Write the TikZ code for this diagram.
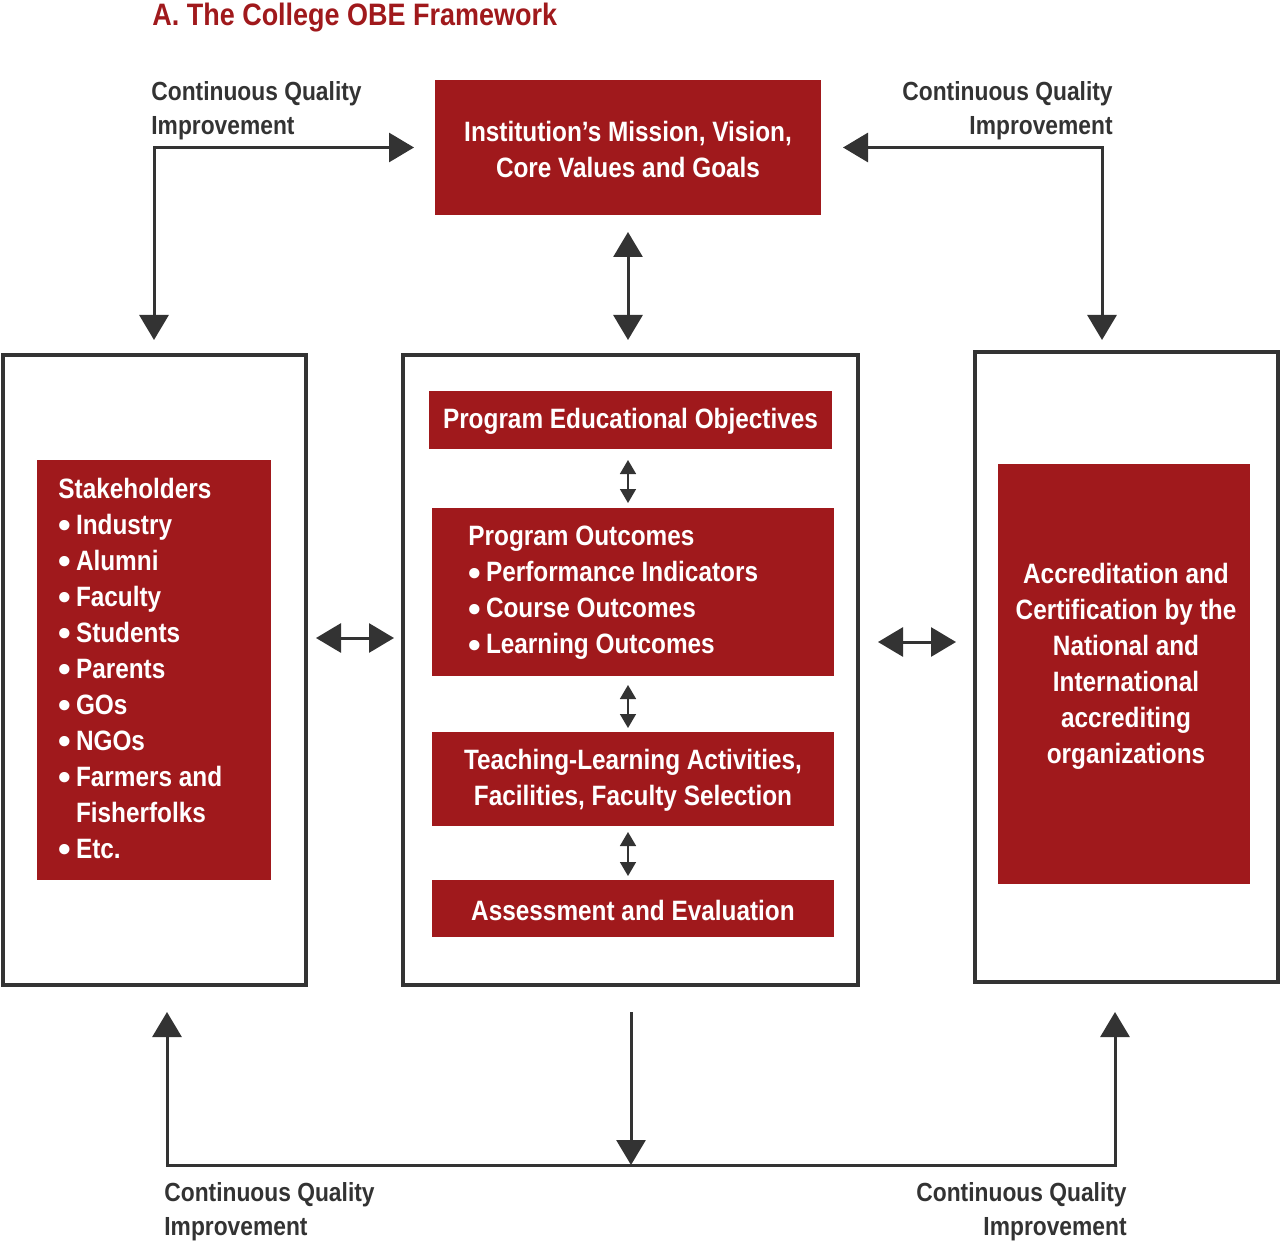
\documentclass[tikz,border=0pt]{standalone}
\usepackage{fontspec}
\setmainfont{Liberation Sans}[FakeStretch=0.87]
\newfontfamily\bulletfont{Liberation Sans}
\usetikzlibrary{positioning,arrows.meta,calc}
\definecolor{obered}{HTML}{A0191C}
\definecolor{obegray}{HTML}{333333}
\newcommand{\obedot}{{\bulletfont\fontsize{18}{18}\selectfont\raisebox{-1.8pt}{\textbullet}}\hspace{2.5pt}}

\begin{document}
\begin{tikzpicture}[x=0.5pt,y=-0.5pt,
    redbox/.style={fill=obered,inner sep=0pt,outer sep=0pt},
    boxtext/.style={text=white,font=\bfseries\fontsize{14}{18}\selectfont,inner sep=0pt},
    outerbox/.style={draw=obegray,line width=2pt,inner sep=0pt,outer sep=0pt},
    cqi/.style={text=obegray,font=\bfseries\fontsize{13.1}{17}\selectfont,inner sep=0pt},
    bigarr/.style={draw=obegray,line width=1.5pt,
        {Triangle[length=12.5pt,width=14.5pt]}-{Triangle[length=12.5pt,width=14.5pt]}},
    smallarr/.style={draw=obegray,line width=0.8pt,
        {Triangle[length=7pt,width=8pt]}-{Triangle[length=7pt,width=8pt]}}]

    \useasboundingbox (0,0) rectangle (1280,1241);

    % Title
    \node[anchor=base west,text=obered,font=\bfseries\fontsize{15.5}{19}\selectfont,inner sep=0pt]
        (title) at (152,26) {A. The College OBE Framework};

    % Mission box
    \node[redbox,minimum width=193pt,minimum height=67.5pt] (mission) at (628,147.5) {};
    \node[boxtext,align=center] (missiontxt) at (628,149) {Institution's Mission, Vision,\\Core Values and Goals};

    % Outer boxes
    \node[outerbox,minimum width=151.5pt,minimum height=315pt] (left) at (154.5,670) {};
    \node[outerbox,minimum width=227.5pt,minimum height=315pt] (mid) at (630.5,670) {};
    \node[outerbox,minimum width=151.5pt,minimum height=315pt] (right) at (1126.5,667) {};

    % Stakeholders
    \node[redbox,minimum width=117pt,minimum height=210pt] (stake) at (154,670) {};
    \node[boxtext,align=left,anchor=west] (staketxt) at (58,670) {Stakeholders\\
        \obedot Industry\\ \obedot Alumni\\ \obedot Faculty\\ \obedot Students\\
        \obedot Parents\\ \obedot GOs\\ \obedot NGOs\\ \obedot Farmers and\\
        \phantom{\obedot}Fisherfolks\\ \obedot Etc.};

    % Program boxes
    \node[redbox,minimum width=201.5pt,minimum height=29pt] (peo) at (630.5,420) {};
    \node[boxtext] (peotxt) at (630.5,421) {Program Educational Objectives};
    \node[redbox,minimum width=201pt,minimum height=84pt] (po) at (633,592) {};
    \node[boxtext,align=left,anchor=west] (potxt) at (468,593) {Program Outcomes\\
        \obedot Performance Indicators\\ \obedot Course Outcomes\\ \obedot Learning Outcomes};
    \node[redbox,minimum width=201pt,minimum height=47pt] (tla) at (633,779) {};
    \node[boxtext,align=center] (tlatxt) at (633,780) {Teaching-Learning Activities,\\Facilities, Faculty Selection};
    \node[redbox,minimum width=201pt,minimum height=28.5pt] (ae) at (633,908.5) {};
    \node[boxtext] (aetxt) at (633,910) {Assessment and Evaluation};

    % Accreditation
    \node[redbox,minimum width=126pt,minimum height=210pt] (acc) at (1124,674) {};
    \node[boxtext,align=center] (acctxt) at (1126,666) {Accreditation and\\Certification by the\\National and\\International\\accrediting\\organizations};

    % Arrows
    \coordinate (axis) at (628,0);
    \draw[smallarr] ([yshift=-5.5pt]peo.south -| axis) -- ([yshift=2.5pt]po.north -| axis);
    \draw[smallarr] ([yshift=-4.5pt]po.south -| axis) -- ([yshift=2pt]tla.north -| axis);
    \draw[smallarr] ([yshift=-3pt]tla.south -| axis) -- ([yshift=2pt]ae.north -| axis);
    \draw[bigarr] ([yshift=-8.5pt]mission.south -| axis) -- ([yshift=7.5pt]mid.north -| axis);
    \coordinate (hl) at (0,638);
    \coordinate (hr) at (0,642);
    \draw[bigarr] ([xshift=5pt]left.east |- hl) -- ([xshift=-4.5pt]mid.west |- hl);
    \draw[bigarr] ([xshift=10pt]mid.east |- hr) -- ([xshift=-9.5pt]right.west |- hr);

    % Quality loops
    \coordinate (ltop) at (154,340);
    \coordinate (rtop) at (1102,340);
    \draw[bigarr] ([xshift=-10.5pt]mission.west) -| (ltop);
    \draw[bigarr] ([xshift=11pt]mission.east) -| (rtop);
    \coordinate (lbot) at (167,1012);
    \coordinate (rbot) at (1115,1012);
    \coordinate (bot) at (631,1165);
    \draw[bigarr] (lbot) |- (bot) -| (rbot);
    \draw[bigarr,-{Triangle[length=12.5pt,width=14.5pt]}] ([yshift=-13.5pt]mid.south -| bot) -- (bot);

    % Labels
    \node[cqi,align=left,anchor=west] (cqitl) at (151,111) {Continuous Quality\\Improvement};
    \node[cqi,align=right,anchor=east] (cqitr) at (1113,111) {Continuous Quality\\Improvement};
    \node[cqi,align=left,anchor=west] (cqibl) at (164,1212) {Continuous Quality\\Improvement};
    \node[cqi,align=right,anchor=east] (cqibr) at (1127,1212) {Continuous Quality\\Improvement};
\end{tikzpicture}
\end{document}
